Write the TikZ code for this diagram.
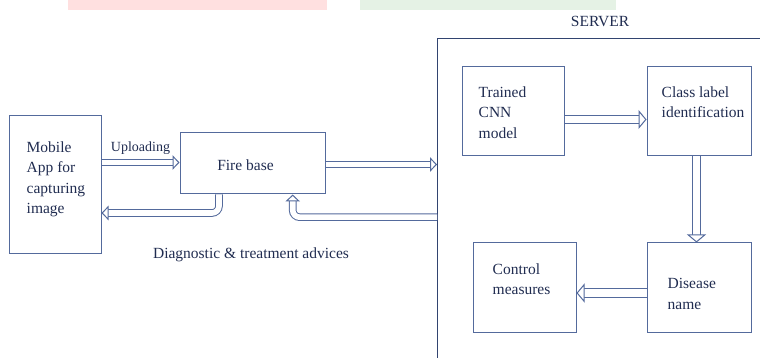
\documentclass[tikz,border=0pt]{standalone}
\usepackage{fontspec}
\setmainfont{Liberation Serif}
\usetikzlibrary{arrows.meta,positioning,calc}
\definecolor{linec}{RGB}{84,106,156}
\definecolor{textc}{RGB}{32,44,80}
\definecolor{edgec}{RGB}{50,68,112}
\begin{document}
\begin{tikzpicture}[x=1pt,y=1pt,font=\fontsize{15.5}{20.5}\selectfont,text=textc,
    box/.style={draw=linec,line width=1pt,inner sep=0pt},
    txt/.style={anchor=north west,inner sep=0pt,align=left},
    dbl/.style={draw=white,line width=0.1pt,
        -{Triangle[length=7pt,width=14.5pt,color=linec,fill=white,line width=1pt]},
        preaction={draw=linec,line width=7.6pt,shorten >=6.5pt,arrows=-},
        preaction={draw=white,line width=5.6pt,shorten >=6pt,arrows=-}},
    dblwide/.style={draw=white,line width=0.1pt,
        -{Triangle[length=8pt,width=19pt,color=linec,fill=white,line width=1pt]},
        preaction={draw=linec,line width=9.8pt,shorten >=7.5pt,arrows=-},
        preaction={draw=white,line width=7.8pt,shorten >=7pt,arrows=-}}]
    \useasboundingbox (0,0) rectangle (760,358);
    \clip (0,0) rectangle (760,358);
    % faded strips along the top edge
    \fill[red!12] (68,348) rectangle (327,358);
    \fill[green!50!black!10] (360,348) rectangle (616,358);

    \node[box,minimum width=92pt,minimum height=138pt] (mobile) at (55,173) {};
    \node[box,minimum width=145pt,minimum height=61pt] (fire) at (252.5,194.5) {};
    \node[box,minimum width=102pt,minimum height=89pt] (cnn) at (513,246.5) {};
    \node[box,minimum width=104pt,minimum height=89pt] (cls) [right=82pt of cnn] {};
    \node[box,minimum width=104pt,minimum height=90pt] (dis) [below=86pt of cls] {};
    \node[box,minimum width=103pt,minimum height=90pt] (ctrl) [left=70pt of dis] {};
    % server frame runs off the page
    \node[draw=edgec,line width=1pt,inner sep=0pt,minimum width=400pt,minimum height=400pt,anchor=north west] (server) at (437,320) {};
    \node (srvtxt) at (600,337) {SERVER};

    \node[txt] (mobiletxt) [below right=26pt and 18pt of mobile.north west] {Mobile\\App for\\capturing\\image};
    \node (firetxt) at ([xshift=-7pt,yshift=-2pt]fire.center) {Fire base};
    \node[txt] (cnntxt) [below right=20pt and 17pt of cnn.north west] {Trained\\CNN\\model};
    \node[txt] (clstxt) [below right=20pt and 15pt of cls.north west] {Class label\\identification};
    \node[txt] (ctrltxt) [below right=21pt and 20pt of ctrl.north west] {Control\\measures};
    \node[txt] (distxt) [below right=36pt and 21pt of dis.north west] {Disease\\name};

    \draw[dbl] ([yshift=1pt]mobile.east |- fire.west) -- node[above=5pt,font=\fontsize{14}{16}\selectfont] (upl) {Uploading} ([yshift=1pt]fire.west);
    \draw[dbl] ([yshift=-1pt]fire.east) -- ([yshift=-1pt]fire.east -| server.west);
    \draw[dbl,rounded corners=7pt] ([xshift=-33.5pt]fire.south) |- ([yshift=-28pt]mobile.east);
    \draw[dbl,rounded corners=7pt] ($(fire.south -| server.west)+(0,-22.7)$) -| ([xshift=40.2pt]fire.south);
    \draw[dblwide] ([yshift=-8pt]cnn.east) -- ([yshift=-8pt]cls.west);
    \draw[dblwide] ([xshift=-2.5pt]cls.south) -- ([xshift=-2.5pt]dis.north);
    \draw[dblwide] ([yshift=-5pt]dis.west) -- ([yshift=-5pt]ctrl.east);

    \node (advice) at (251,103) {Diagnostic \& treatment advices};
\end{tikzpicture}
\end{document}
